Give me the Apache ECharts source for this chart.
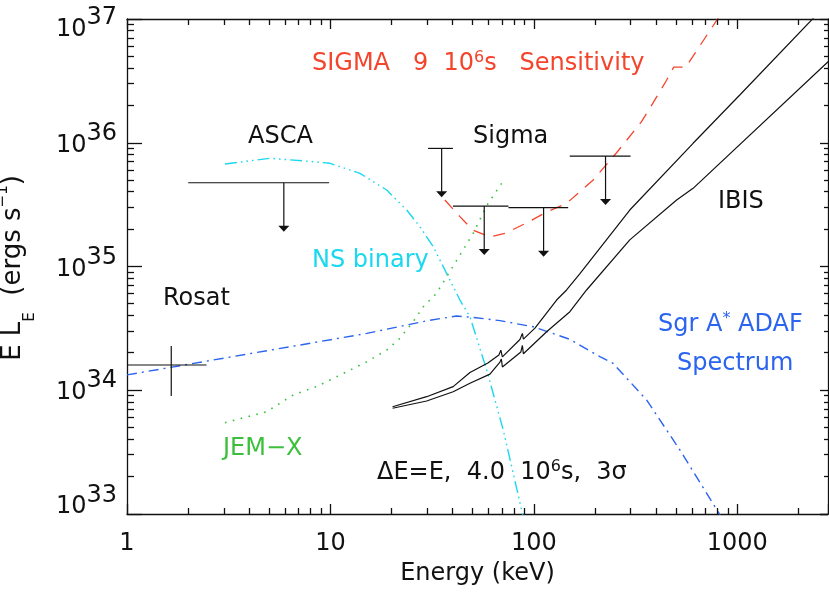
<!DOCTYPE html>
<html>
<head>
<meta charset="utf-8">
<script src="https://cdn.jsdelivr.net/npm/echarts@6/dist/echarts.min.js"></script>
<style>
html,body{margin:0;padding:0;background:#ffffff;}
#chart{width:829px;height:595px;background:#ffffff;}
</style>
</head>
<body>
<div id="chart"></div>
<script>
// ---------------- data ----------------
const xTickValues = [1, 10, 100, 1000];
const xTickLabels = ['1', '10', '100', '1000'];
const yTickExponents = [33, 34, 35, 36, 37];

// SIGMA 9 10^6 s sensitivity (red dashed)
const sigmaSensE = [36.5, 43.3, 50.1, 60.8, 72.0, 92.1, 113.2, 144.8, 195.6, 255, 338, 384, 449, 487, 558, 806];
const sigmaSensL = [3.45e35, 2.53e35, 1.97e35, 1.73e35, 1.85e35, 2.25e35, 2.71e35, 3.24e35, 5.0e35, 8.3e35, 1.48e36, 2.08e36, 3.2e36, 4.09e36, 4.09e36, 1.02e37];

// NS binary (cyan dash-dot-dot-dot)
const nsBinaryE = [3.03, 5.04, 8.23, 9.94, 13.96, 18.9, 23.7, 27.5, 32.0, 37.2, 43.3, 48.5, 58.6, 70.7, 87.0, 89.3];
const nsBinaryL = [6.74e35, 7.49e35, 7.03e35, 6.82e35, 5.66e35, 4.15e35, 2.86e35, 2.10e35, 1.45e35, 8.8e34, 5.36e34, 3.93e34, 1.46e34, 4.77e33, 1.08e33, 8.95e32];

// JEM-X sensitivity (green dotted)
const jemxE = [3.03, 4.86, 6.56, 8.56, 11.6, 15.1, 18.9, 21.96, 25.5, 28.6, 33.2, 50.3, 58.6, 69.4];
const jemxL = [5.47e33, 6.71e33, 9.16e33, 1.07e34, 1.37e34, 1.70e34, 2.11e34, 2.63e34, 3.58e34, 4.73e34, 6.07e34, 1.85e35, 3.1e35, 4.7e35];

// Sgr A* ADAF spectrum (blue dash-dot)
const adafE = [1, 7.08, 15.1, 30, 41.7, 50.3, 68.1, 99.2, 150.3, 211, 245, 358, 522, 805, 853];
const adafL = [1.33e34, 2.32e34, 2.88e34, 3.65e34, 3.98e34, 3.88e34, 3.65e34, 3.26e34, 2.58e34, 1.87e34, 1.65e34, 8.35e33, 3.29e33, 1.04e33, 8.95e32];

// IBIS sensitivity, upper and lower curves (black solid)
const ibisUpperE = [20.2, 29.7, 40.1, 48.5, 59.4, 67.3, 68.8, 70.0, 85.4, 87.8, 88.8, 101.2, 129.3, 144.8, 168, 296, 606, 1028, 2404];
const ibisUpperL = [7.36e33, 8.87e33, 1.07e34, 1.39e34, 1.66e34, 1.93e34, 2.11e34, 1.86e34, 2.57e34, 2.88e34, 2.59e34, 3.18e34, 5.36e34, 6.46e34, 8.7e34, 2.86e35, 9.9e35, 2.43e36, 1.046e37];
const ibisLowerE = [20.2, 29.7, 40.1, 48.5, 60.8, 68.1, 69.2, 70.0, 86.3, 87.8, 88.8, 115.5, 150.3, 181.5, 296, 503, 606, 2900];
const ibisLowerL = [7.15e33, 8.19e33, 9.73e33, 1.14e34, 1.35e34, 1.69e34, 1.79e34, 1.54e34, 2.04e34, 2.30e34, 1.97e34, 2.97e34, 4.31e34, 6.46e34, 1.64e35, 3.45e35, 4.28e35, 4.79e36];

// Upper limits: [E low, E high, E of arrow, level, arrow tip]
const ascaLimits = [[2.0, 9.85, 5.9, 4.75e35, 1.91e35]];
const sigmaLimits = [
  [30.2, 40.0, 35.2, 9.0e35, 3.62e35],
  [40.0, 75.0, 57.0, 3.08e35, 1.24e35],
  [75.0, 147.4, 111.6, 2.99e35, 1.2e35],
  [150.0, 298.6, 225.0, 7.8e35, 3.14e35]
];
// Rosat point: [E low, E high, E centre, L, L low, L high]
const rosatPoint = [[1.0, 2.46, 1.65, 1.6e34, 8.98e33, 2.28e34]];

// ---------------- helpers ----------------
const FONT = 'DejaVu Sans';
const INK = '#111111';
const RED = '#f4442c';
const CYAN = '#1ad8ef';
const BLUE = '#2a64ef';
const GREEN = '#3cc03c';
const X_MIN = 1, X_MAX = 2790, Y_MIN = 1e33, Y_MAX = 1e37;

function pairs(xs, ys) { return xs.map((x, i) => [x, ys[i]]); }
function crisp(v) { return Math.round(v - 0.5) + 0.5; }

const xMinorTicks = [];
xTickValues.forEach(d => { for (let k = 2; k <= 9; k++) { if (d * k < X_MAX) xMinorTicks.push(d * k); } });
const yMinorTicks = [];
yTickExponents.slice(0, -1).forEach(e => { for (let k = 2; k <= 9; k++) yMinorTicks.push(k * Math.pow(10, e)); });

function xLabel(v) {
  const i = xTickValues.findIndex(t => Math.abs(t - v) / t < 1e-6);
  return i >= 0 ? xTickLabels[i] : '';
}
function yLabel(v) {
  const e = Math.round(Math.log10(v));
  if (Math.abs(v / Math.pow(10, e) - 1) > 1e-6 || yTickExponents.indexOf(e) < 0) return '';
  if (e === yTickExponents[yTickExponents.length - 1]) return '{bt|10}{st|' + e + '}';
  if (e === yTickExponents[0]) return '{bb|10}{sb|' + e + '}';
  return '{b|10}{s|' + e + '}';
}

const richMain = {
  n: { fontFamily: FONT, fontSize: 24, lineHeight: 24, verticalAlign: 'bottom' },
  p: { fontFamily: FONT, fontSize: 16, lineHeight: 16, padding: [0, 0, 10, 0], verticalAlign: 'bottom' }
};
const richTitle = {
  n: { fontFamily: FONT, fontSize: 26, lineHeight: 26, padding: [0, 0, 11, 0], verticalAlign: 'bottom' },
  d: { fontFamily: FONT, fontSize: 15, lineHeight: 15, verticalAlign: 'bottom' },
  u: { fontFamily: FONT, fontSize: 15, lineHeight: 15, padding: [0, 0, 27, 0], verticalAlign: 'bottom' }
};

function limitRender(params, api) {
  const lo = api.coord([api.value(0), api.value(3)]);
  const hi = api.coord([api.value(1), api.value(3)]);
  const ar = api.coord([api.value(2), api.value(3)]);
  const tip = api.coord([api.value(2), api.value(4)]);
  const st = { stroke: INK, lineWidth: 1.2 };
  return {
    type: 'group',
    children: [
      { type: 'line', shape: { x1: lo[0], y1: lo[1], x2: hi[0], y2: hi[1] }, style: st },
      { type: 'line', shape: { x1: ar[0], y1: ar[1], x2: tip[0], y2: tip[1] - 5 }, style: st },
      { type: 'polygon', shape: { points: [[tip[0] - 5.5, tip[1] - 6], [tip[0] + 5.5, tip[1] - 6], [tip[0], tip[1]]] }, style: { fill: INK } }
    ]
  };
}
function rosatRender(params, api) {
  const lo = api.coord([api.value(0), api.value(3)]);
  const hi = api.coord([api.value(1), api.value(3)]);
  const b = api.coord([api.value(2), api.value(4)]);
  const t = api.coord([api.value(2), api.value(5)]);
  const st = { stroke: INK, lineWidth: 1.2 };
  return {
    type: 'group',
    children: [
      { type: 'line', shape: { x1: lo[0], y1: lo[1], x2: hi[0], y2: hi[1] }, style: st },
      { type: 'line', shape: { x1: b[0], y1: b[1], x2: t[0], y2: t[1] }, style: st }
    ]
  };
}
// minor ticks on all four sides, placed through the axes' own log scales
function xMinorRender(params, api) {
  const v = api.value(0);
  const pb = api.coord([v, Y_MIN]);
  const pt = api.coord([v, Y_MAX]);
  const x = crisp(pb[0]);
  const st = { stroke: INK, lineWidth: 1.3 };
  return { type: 'group', children: [
    { type: 'line', shape: { x1: x, y1: pb[1], x2: x, y2: pb[1] - 6 }, style: st },
    { type: 'line', shape: { x1: x, y1: pt[1], x2: x, y2: pt[1] + 6 }, style: st }
  ] };
}
function yMinorRender(params, api) {
  const v = api.value(1);
  const pl = api.coord([X_MIN, v]);
  const pr = api.coord([X_MAX, v]);
  const y = crisp(pl[1]);
  const st = { stroke: INK, lineWidth: 1.3 };
  return { type: 'group', children: [
    { type: 'line', shape: { x1: pl[0], y1: y, x2: pl[0] + 7, y2: y }, style: st },
    { type: 'line', shape: { x1: pr[0], y1: y, x2: pr[0] - 4, y2: y }, style: st }
  ] };
}

const axisLineStyle = { color: INK, width: 1.3 };
const baseX = {
  type: 'log', logBase: 10, min: X_MIN, max: X_MAX,
  splitLine: { show: false },
  axisLine: { show: true, onZero: false, lineStyle: axisLineStyle }
};
const baseY = {
  type: 'log', logBase: 10, min: Y_MIN, max: Y_MAX,
  splitLine: { show: false },
  axisLine: { show: true, onZero: false, lineStyle: axisLineStyle }
};

const textGraphics = [
  { type: 'text', x: 312, y: 63.5, silent: true,
    style: { text: '{n|SIGMA   9  10}{p|6}{n|s   Sensitivity}', rich: richMain, fill: RED, textVerticalAlign: 'middle' } },
  { type: 'text', x: 248, y: 137, silent: true,
    style: { text: 'ASCA', font: '24px "DejaVu Sans"', fill: INK, textVerticalAlign: 'middle' } },
  { type: 'text', x: 473, y: 137, silent: true,
    style: { text: 'Sigma', font: '24px "DejaVu Sans"', fill: INK, textVerticalAlign: 'middle' } },
  { type: 'text', x: 718, y: 202, silent: true,
    style: { text: 'IBIS', font: '24px "DejaVu Sans"', fill: INK, textVerticalAlign: 'middle' } },
  { type: 'text', x: 312, y: 260.5, silent: true,
    style: { text: 'NS binary', font: '24px "DejaVu Sans"', fill: CYAN, textVerticalAlign: 'middle' } },
  { type: 'text', x: 163, y: 298.5, silent: true,
    style: { text: 'Rosat', font: '24px "DejaVu Sans"', fill: INK, textVerticalAlign: 'middle' } },
  { type: 'text', x: 658, y: 324.5, silent: true,
    style: { text: '{n|Sgr A}{p|*}{n| ADAF}', rich: richMain, fill: BLUE, textVerticalAlign: 'middle' } },
  { type: 'text', x: 677, y: 364, silent: true,
    style: { text: 'Spectrum', font: '24px "DejaVu Sans"', fill: BLUE, textVerticalAlign: 'middle' } },
  { type: 'text', x: 223, y: 449, silent: true,
    style: { text: 'JEM\u2212X', font: '24px "DejaVu Sans"', fill: GREEN, textVerticalAlign: 'middle' } },
  { type: 'text', x: 377, y: 472.5, silent: true,
    style: { text: '{n|\u0394E=E,  4.0  10}{p|6}{n|s,  3\u03c3}', rich: richMain, fill: INK, textVerticalAlign: 'middle' } },
  { type: 'text', x: 24.5, y: 268, rotation: Math.PI / 2, silent: true,
    style: { text: '{n|E L}{d|E}{n|  (ergs s}{u|\u22121}{n|)}', rich: richTitle, fill: INK, textAlign: 'center', textVerticalAlign: 'middle' } }
];

const option = {
  animation: false,
  grid: { left: 127, right: 1, top: 19, bottom: 81, outerBoundsMode: 'none' },
  xAxis: [
    Object.assign({}, baseX, {
      position: 'bottom',
      axisTick: { show: true, inside: true, length: 10, lineStyle: { color: INK, width: 1.3 } },
      axisLabel: { show: true, margin: 18, color: INK, fontFamily: FONT, fontSize: 24, formatter: xLabel },
      name: 'Energy (keV)', nameLocation: 'middle', nameGap: 48,
      nameTextStyle: { color: INK, fontFamily: FONT, fontSize: 24 }
    }),
    Object.assign({}, baseX, {
      position: 'top',
      axisTick: { show: true, inside: true, length: 10, lineStyle: { color: INK, width: 1.3 } },
      axisLabel: { show: false }
    })
  ],
  yAxis: [
    Object.assign({}, baseY, {
      position: 'left',
      axisTick: { show: true, inside: true, length: 15, lineStyle: { color: INK, width: 1.3 } },
      axisLabel: {
        show: true, margin: 10, color: INK, formatter: yLabel,
        rich: {
          b: { fontFamily: FONT, fontSize: 24, lineHeight: 24, padding: [3, 0, 0, 0], verticalAlign: 'top' },
          s: { fontFamily: FONT, fontSize: 24, lineHeight: 24, padding: [0, 0, 9, 0], verticalAlign: 'bottom' },
          bt: { fontFamily: FONT, fontSize: 24, lineHeight: 24, padding: [11, 0, 0, 0], verticalAlign: 'top' },
          st: { fontFamily: FONT, fontSize: 24, lineHeight: 24, padding: [0, 0, 1, 0], verticalAlign: 'bottom' },
          bb: { fontFamily: FONT, fontSize: 24, lineHeight: 24, padding: [0, 0, 7, 0], verticalAlign: 'bottom' },
          sb: { fontFamily: FONT, fontSize: 24, lineHeight: 24, padding: [0, 0, 18, 0], verticalAlign: 'bottom' }
        }
      }
    }),
    Object.assign({}, baseY, {
      position: 'right',
      axisTick: { show: true, inside: true, length: 8, lineStyle: { color: INK, width: 1.3 } },
      axisLabel: { show: false }
    })
  ],
  series: [
    { type: 'custom', name: 'x minor ticks', clip: false, z: 5, renderItem: xMinorRender,
      encode: { x: 0, y: 1 }, data: xMinorTicks.map(v => [v, 1e35]) },
    { type: 'custom', name: 'y minor ticks', clip: false, z: 5, renderItem: yMinorRender,
      encode: { x: 0, y: 1 }, data: yMinorTicks.map(v => [10, v]) },
    { type: 'line', name: 'SIGMA sensitivity', data: pairs(sigmaSensE, sigmaSensL), showSymbol: false, symbol: 'none',
      lineStyle: { color: RED, width: 1.3, type: [12, 9] } },
    { type: 'line', name: 'NS binary', data: pairs(nsBinaryE, nsBinaryL), showSymbol: false, symbol: 'none',
      lineStyle: { color: CYAN, width: 1.4, type: [12, 4, 1.6, 4, 1.6, 4, 1.6, 4] } },
    { type: 'line', name: 'JEM-X', data: pairs(jemxE, jemxL), showSymbol: false, symbol: 'none',
      lineStyle: { color: GREEN, width: 1.6, type: [1.6, 6.5] } },
    { type: 'line', name: 'Sgr A* ADAF', data: pairs(adafE, adafL), showSymbol: false, symbol: 'none',
      lineStyle: { color: BLUE, width: 1.4, type: [10, 5, 2, 5] } },
    { type: 'line', name: 'IBIS upper', data: pairs(ibisUpperE, ibisUpperL), showSymbol: false, symbol: 'none',
      lineStyle: { color: INK, width: 1.2 } },
    { type: 'line', name: 'IBIS lower', data: pairs(ibisLowerE, ibisLowerL), showSymbol: false, symbol: 'none',
      lineStyle: { color: INK, width: 1.2 } },
    { type: 'custom', name: 'ASCA limit', renderItem: limitRender, data: ascaLimits, encode: { x: [0, 1, 2], y: [3, 4] }, z: 6 },
    { type: 'custom', name: 'Sigma limits', renderItem: limitRender, data: sigmaLimits, encode: { x: [0, 1, 2], y: [3, 4] }, z: 6 },
    { type: 'custom', name: 'Rosat', renderItem: rosatRender, data: rosatPoint, encode: { x: [0, 1, 2], y: [3, 4, 5] }, z: 6 }
  ]
};

const chart = echarts.init(document.getElementById('chart'));
chart.setOption(option);
chart.setOption({ graphic: textGraphics });
</script>
</body>
</html>
